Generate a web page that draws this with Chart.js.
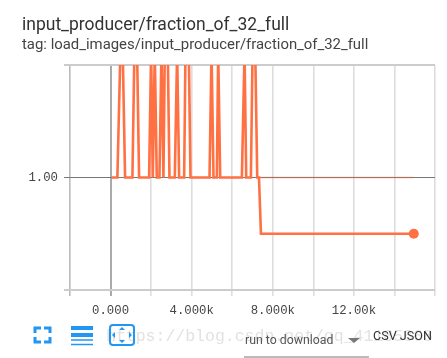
<!DOCTYPE html>
<html>
<head>
<meta charset="utf-8">
<script src="https://cdn.jsdelivr.net/npm/chart.js@4"></script>
<style>
html,body{margin:0;padding:0;background:#fff;width:447px;height:358px;overflow:hidden}
#c{position:absolute;left:0;top:0}
.t{position:absolute;white-space:nowrap;font-family:Roboto,sans-serif}
svg{position:absolute}
</style>
</head>
<body>
<canvas id="c" width="447" height="358" style="width:447px;height:358px"></canvas>
<div class="t" style="left:22px;top:14px;font-size:17.5px;color:#333">input_producer/fraction_of_32_full</div>
<div class="t" style="left:22px;top:35px;font-size:14.9px;color:#444">tag: load_images/input_producer/fraction_of_32_full</div>
<div class="t" style="left:106px;top:327px;font-family:'Liberation Mono',monospace;font-size:16.5px;color:#e2e2e2">https://blog.csdn.net/qq_41185868</div>
<div class="t" style="left:245px;top:333px;font-size:12.3px;color:#555">run to download</div>
<div class="t" style="left:373px;top:328px;font-size:12.6px;color:#333">CSV JSON</div>
<svg style="left:0;top:0" width="447" height="358">
  <g fill="none" stroke="#2196f3" stroke-width="3">
    <path d="M35 333v-5h6M44 328h6v5M50 337v5h-6M41 342h-6v-5"/>
    <path d="M71 328h22M71 335h22" stroke-width="4"/>
    <path d="M71 340h22M71 344.500h22" stroke-width="1.5"/>
    <rect x="110" y="325" width="24" height="20" rx="3" stroke-width="2"/>
  </g>
  <g fill="#2196f3">
    <path d="M122 327l-3 3h6zM122 343l-3-3h6zM112 335l3-3v6zM132 335l-3-3v6z"/>
  </g>
  <path d="M348 338h12l-6 5z" fill="#777"/>
  <path d="M244 357h125" stroke="#777" stroke-width="1"/>
</svg>
<script>
const steps = [57,337,485,600,716,1078,1176,1308,1407,1901,2000,2082,2181,2279,2411,2510,2608,2674,2822,2905,3168,3283,3382,3629,3695,3859,3942,4880,4979,5077,5242,5308,5407,6476,6608,6690,6921,7003,7135,7234,7320,7417,14953];
const values = [1,1,1.07,1.07,1,1,1.07,1.07,1,1,1.07,1,1.07,1,1,1.07,1,1.07,1.07,1,1,1.07,1,1,1.07,1.07,1,1,1.07,1,1,1.07,1,1,1.07,1,1,1.07,1.07,1,1,0.96875,0.96875];
const rawSteps = [7320,14953];
const rawValues = [1,1];
const xTicks = [-2000,0,2000,4000,6000,8000,10000,12000,14000,16000];
const xTickLabels = ["","0.000","","4.000k","","8.000k","","12.00k","",""];
const yTicks = [0.9375,1,1.0625];
const yTickLabels = ["","1.00",""];
const series = steps.map((s,i)=>({x:s,y:values[i]}));
const rawSeries = rawSteps.map((s,i)=>({x:s,y:rawValues[i]}));
const tickFont = {family:"'Liberation Mono',monospace",size:12.3};
new Chart(document.getElementById('c'),{
  type:'line',
  data:{datasets:[
    {data:rawSeries,borderColor:'rgba(255,112,67,0.3)',borderWidth:2,pointRadius:0,tension:0},
    {data:series,borderColor:'#ff7043',borderWidth:2.6,tension:0,backgroundColor:'#ff7043',
     pointBackgroundColor:'#ff7043',pointBorderWidth:0,
     pointRadius:ctx=>ctx.dataIndex===series.length-1?5:0}
  ]},
  options:{
    responsive:false,animation:false,
    layout:{padding:{top:65,right:12,bottom:0,left:0}},
    plugins:{legend:{display:false},tooltip:{enabled:false}},
    scales:{
      x:{type:'linear',min:-2296,max:16000,
        afterBuildTicks:a=>{a.ticks=xTicks.map(v=>({value:v}));},
        afterFit:a=>{a.height=68;},
        border:{display:false},
        grid:{drawTicks:true,tickLength:6,
          color:c=>c.tick&&c.tick.value===0?'#aaa':c.tick&&c.tick.value===-2000?'#bbb':'#ddd',
          lineWidth:c=>c.tick&&c.tick.value===0?2:1.6},
        ticks:{autoSkip:false,maxRotation:0,color:'#444',font:tickFont,padding:7,
          callback:v=>xTickLabels[xTicks.indexOf(v)]}
      },
      y:{type:'linear',min:0.9375,max:1.0625,
        afterBuildTicks:a=>{a.ticks=yTicks.map(v=>({value:v}));},
        afterFit:a=>{a.width=64;},
        border:{display:false},
        grid:{drawTicks:false,
          color:c=>c.tick&&c.tick.value===1?'#777':'#ccc',
          lineWidth:c=>c.tick&&c.tick.value===1?1:2},
        ticks:{color:'#444',font:tickFont,padding:6,
          callback:v=>yTickLabels[yTicks.indexOf(v)]}
      }
    }
  }
});
</script>
</body>
</html>
